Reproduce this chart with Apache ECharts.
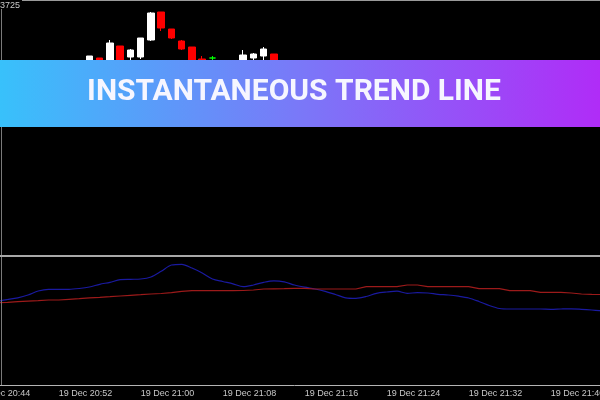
<!DOCTYPE html>
<html>
<head>
<meta charset="utf-8">
<title>Instantaneous Trend Line</title>
<script src="https://cdn.jsdelivr.net/npm/echarts@6.0.0/dist/echarts.min.js"></script>
<style>
  html, body { margin: 0; padding: 0; background: #000; overflow: hidden; width: 600px; height: 400px; }
  /* the terminal cuts the first candles off at the left edge, so the chart is shifted left */
  #chart { position: absolute; left: -29px; top: 0; width: 680px; height: 400px; }
</style>
</head>
<body>
<div id="chart"></div>
<script>
// minutes on the x axis (one candle per minute)
const times = [
  '19 Dec 20:44', '19 Dec 20:45', '19 Dec 20:46', '19 Dec 20:47', '19 Dec 20:48', '19 Dec 20:49', '19 Dec 20:50', '19 Dec 20:51',
  '19 Dec 20:52', '19 Dec 20:53', '19 Dec 20:54', '19 Dec 20:55', '19 Dec 20:56', '19 Dec 20:57', '19 Dec 20:58', '19 Dec 20:59',
  '19 Dec 21:00', '19 Dec 21:01', '19 Dec 21:02', '19 Dec 21:03', '19 Dec 21:04', '19 Dec 21:05', '19 Dec 21:06', '19 Dec 21:07',
  '19 Dec 21:08', '19 Dec 21:09', '19 Dec 21:10', '19 Dec 21:11', '19 Dec 21:12', '19 Dec 21:13', '19 Dec 21:14', '19 Dec 21:15',
  '19 Dec 21:16', '19 Dec 21:17', '19 Dec 21:18', '19 Dec 21:19', '19 Dec 21:20', '19 Dec 21:21', '19 Dec 21:22', '19 Dec 21:23',
  '19 Dec 21:24', '19 Dec 21:25', '19 Dec 21:26', '19 Dec 21:27', '19 Dec 21:28', '19 Dec 21:29', '19 Dec 21:30', '19 Dec 21:31',
  '19 Dec 21:32', '19 Dec 21:33', '19 Dec 21:34', '19 Dec 21:35', '19 Dec 21:36', '19 Dec 21:37', '19 Dec 21:38', '19 Dec 21:39',
  '19 Dec 21:40', '19 Dec 21:41', '19 Dec 21:42', '19 Dec 21:43', '19 Dec 21:44', '19 Dec 21:45', '19 Dec 21:46'
]

// [open, close, low, high]
const candles = [
  [1.03620, 1.03614, 1.03611, 1.03623], [1.03614, 1.03622, 1.03612, 1.03624], [1.03622, 1.03627, 1.03619, 1.03629],
  [1.03627, 1.03623, 1.03621, 1.03630], [1.03623, 1.03631, 1.03622, 1.03633], [1.03631, 1.03638, 1.03629, 1.03640],
  [1.03638, 1.03636, 1.03633, 1.03641], [1.03636, 1.03645, 1.03635, 1.03647], [1.03645, 1.03651, 1.03643, 1.03653],
  [1.03651, 1.03656, 1.03649, 1.03658], [1.03656, 1.03663, 1.03654, 1.03667], [1.03663, 1.03676, 1.03661, 1.03676],
  [1.03674, 1.03666, 1.03664, 1.03674], [1.03666, 1.03689, 1.03665, 1.03692], [1.03686, 1.03670, 1.03668, 1.03686],
  [1.03675, 1.03682, 1.03672, 1.03683], [1.03675, 1.03694, 1.03673, 1.03694], [1.03692, 1.03719, 1.03691, 1.03720],
  [1.03720, 1.03704, 1.03701, 1.03720], [1.03703, 1.03694, 1.03693, 1.03703], [1.03691, 1.03683, 1.03682, 1.03692],
  [1.03685, 1.03668, 1.03665, 1.03685], [1.03673, 1.03669, 1.03666, 1.03676], [1.03674, 1.03674, 1.03668, 1.03676],
  [1.03670, 1.03664, 1.03661, 1.03671], [1.03664, 1.03669, 1.03662, 1.03671], [1.03669, 1.03677, 1.03667, 1.03682],
  [1.03674, 1.03678, 1.03672, 1.03679], [1.03676, 1.03683, 1.03672, 1.03685], [1.03678, 1.03667, 1.03664, 1.03678],
  [1.03667, 1.03662, 1.03658, 1.03669], [1.03662, 1.03657, 1.03653, 1.03664], [1.03657, 1.03652, 1.03650, 1.03660],
  [1.03652, 1.03648, 1.03645, 1.03655], [1.03648, 1.03643, 1.03641, 1.03650], [1.03643, 1.03640, 1.03636, 1.03646],
  [1.03640, 1.03645, 1.03638, 1.03647], [1.03645, 1.03652, 1.03643, 1.03654], [1.03652, 1.03656, 1.03650, 1.03659],
  [1.03656, 1.03653, 1.03650, 1.03658], [1.03653, 1.03650, 1.03647, 1.03655], [1.03650, 1.03654, 1.03648, 1.03656],
  [1.03654, 1.03651, 1.03649, 1.03657], [1.03651, 1.03648, 1.03645, 1.03653], [1.03648, 1.03649, 1.03646, 1.03651],
  [1.03649, 1.03645, 1.03643, 1.03651], [1.03645, 1.03642, 1.03640, 1.03647], [1.03642, 1.03636, 1.03634, 1.03644],
  [1.03636, 1.03630, 1.03628, 1.03638], [1.03630, 1.03626, 1.03622, 1.03632], [1.03626, 1.03624, 1.03620, 1.03628],
  [1.03624, 1.03627, 1.03622, 1.03629], [1.03627, 1.03625, 1.03622, 1.03629], [1.03625, 1.03628, 1.03623, 1.03630],
  [1.03628, 1.03624, 1.03621, 1.03630], [1.03624, 1.03626, 1.03622, 1.03628], [1.03626, 1.03623, 1.03620, 1.03628],
  [1.03623, 1.03627, 1.03621, 1.03629], [1.03627, 1.03624, 1.03621, 1.03628], [1.03624, 1.03621, 1.03619, 1.03626],
  [1.03621, 1.03623, 1.03618, 1.03625], [1.03623, 1.03620, 1.03617, 1.03624], [1.03620, 1.03622, 1.03618, 1.03624]
]

// indicator window: blue line and red trend line
const fastLine = [
  1.03641, 1.03642, 1.03643, 1.036445, 1.036462, 1.03649, 1.03653, 1.036547, 1.036547, 1.036547,
  1.036555, 1.03657, 1.036597, 1.036617, 1.036643, 1.036647, 1.03665, 1.03667, 1.036727, 1.03679,
  1.036797, 1.03676, 1.03671, 1.03665, 1.036625, 1.036602, 1.036573, 1.03659, 1.036617, 1.036632,
  1.036622, 1.03659, 1.036568, 1.03655, 1.036527, 1.036495, 1.036462, 1.036457, 1.036475, 1.036507,
  1.03652, 1.036528, 1.036507, 1.036513, 1.03651, 1.036497, 1.03649, 1.036478, 1.03646, 1.036425,
  1.036385, 1.036355, 1.03635, 1.03635, 1.03635, 1.03635, 1.036347, 1.03635, 1.036352, 1.036347,
  1.03634, 1.036332, 1.03633
]
const trendLine = [
  1.036407, 1.03641, 1.036413, 1.036417, 1.036423, 1.036428, 1.036433, 1.03644, 1.03644, 1.036447,
  1.036453, 1.036462, 1.036467, 1.036473, 1.03648, 1.036487, 1.036493, 1.0365, 1.036505, 1.036513,
  1.036527, 1.036533, 1.036533, 1.036533, 1.036533, 1.036533, 1.036535, 1.03654, 1.03655, 1.036552,
  1.036554, 1.036557, 1.036557, 1.03655, 1.03655, 1.03655, 1.03655, 1.03655, 1.036573, 1.036573,
  1.036573, 1.036573, 1.03659, 1.03659, 1.036573, 1.036573, 1.036573, 1.036573, 1.036573, 1.036553,
  1.036553, 1.036553, 1.036533, 1.036533, 1.036533, 1.036517, 1.036517, 1.036517, 1.03651, 1.0365,
  1.036497, 1.036495, 1.03649
]

const title = 'INSTANTANEOUS TREND LINE'
const priceLabel = '3725'

// the div starts 29px left of the window, graphics are given in window pixels + this
const dx = 29

let myChart = echarts.init(document.getElementById('chart'))

// doji candles are drawn green like in the terminal
let candleData = candles.map(c => {
  if (c[0] === c[1]) {
    return { value: c, itemStyle: { color: '#00ff00', borderColor: '#00ff00', color0: '#00ff00', borderColor0: '#00ff00' } }
  }
  return c
})

let option = {
  backgroundColor: '#000',
  animation: false,
  grid: [
    { left: 0.6, width: 645.75, top: 2, height: 253 },
    { left: 0.6, width: 645.75, top: 258, height: 127 }
  ],
  xAxis: [
    {
      type: 'category',
      gridIndex: 0,
      data: times,
      show: false
    },
    {
      type: 'category',
      gridIndex: 1,
      data: times,
      axisLine: { lineStyle: { color: '#b4b4b4', width: 1 } },
      axisTick: { inside: true, length: 3, interval: 7, alignWithLabel: true, lineStyle: { color: '#b4b4b4' } },
      axisLabel: {
        interval: 7,
        align: 'left',
        margin: 4,
        color: '#c8c8c8',
        fontSize: 9,
        fontFamily: 'Liberation Sans'
      },
      splitLine: { show: false }
    }
  ],
  yAxis: [
    { type: 'value', gridIndex: 0, min: 1.03477, max: 1.03730, show: false },
    { type: 'value', gridIndex: 1, min: 1.03559, max: 1.03686, show: false }
  ],
  series: [
    {
      name: 'price',
      type: 'candlestick',
      xAxisIndex: 0,
      yAxisIndex: 0,
      barWidth: 7,
      itemStyle: {
        color: '#ffffff',
        color0: '#ff0000',
        borderColor: '#ffffff',
        borderColor0: '#ff0000',
        borderColorDoji: '#00ff00',
        borderWidth: 1
      },
      data: candleData
    },
    {
      name: 'fast',
      type: 'line',
      xAxisIndex: 1,
      yAxisIndex: 1,
      smooth: 0.3,
      symbol: 'none',
      lineStyle: { color: '#1a1aa0', width: 1.2 },
      data: fastLine
    },
    {
      name: 'trend',
      type: 'line',
      xAxisIndex: 1,
      yAxisIndex: 1,
      symbol: 'none',
      lineStyle: { color: '#9c1a1a', width: 1.2 },
      data: trendLine
    }
  ],
  graphic: [
    // frame lines of the terminal window
    { type: 'line', shape: { x1: dx + 22, y1: 0.5, x2: dx + 600, y2: 0.5 }, style: { stroke: '#9a9a9a', lineWidth: 1 }, z: 10 },
    { type: 'line', shape: { x1: dx + 1.5, y1: 9, x2: dx + 1.5, y2: 385 }, style: { stroke: '#7a7a7a', lineWidth: 1 }, z: 10 },
    { type: 'rect', shape: { x: dx, y: 255, width: 600, height: 2 }, style: { fill: '#a8a8a8' }, z: 10 },
    {
      type: 'text', x: dx, y: 1, z: 10,
      style: { text: priceLabel, fill: '#c8c8c8', font: '9px Liberation Sans' }
    },
    // banner
    {
      type: 'rect', shape: { x: dx, y: 60, width: 600, height: 67 }, z: 20,
      style: {
        fill: new echarts.graphic.LinearGradient(0, 0, 1, 0, [
          { offset: 0, color: '#38c1fb' },
          { offset: 0.5, color: '#7a78f8' },
          { offset: 1, color: '#b02cf7' }
        ])
      }
    },
    {
      type: 'text', x: dx + 294, y: 92.5, z: 21,
      style: {
        text: title,
        fill: '#f6f6ff',
        font: 'bold 30px Roboto',
        align: 'center',
        verticalAlign: 'middle'
      }
    }
  ]
}
myChart.setOption(option)
</script>
</body>
</html>
